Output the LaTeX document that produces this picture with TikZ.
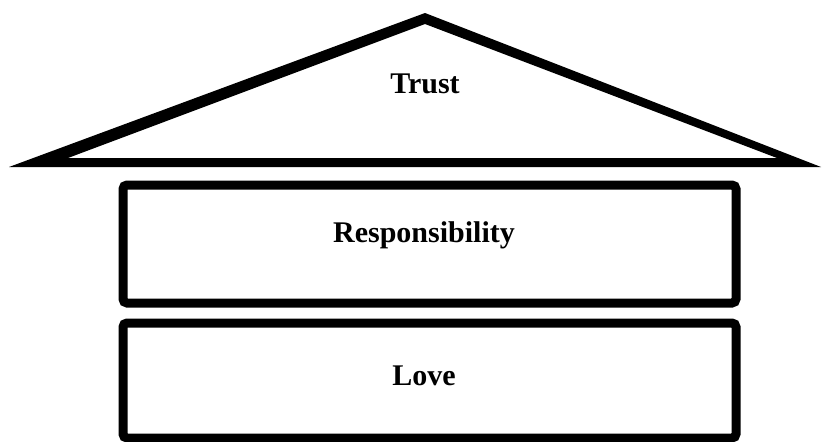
\documentclass[tikz,border=0pt]{standalone}
\usepackage{fontspec}
\setmainfont{Liberation Serif}
\begin{document}
\begin{tikzpicture}[x=1pt,y=-1pt,
  box/.style={draw=black,line width=9pt,rounded corners=4pt},
  lbl/.style={anchor=base,font=\fontsize{30}{36}\selectfont\bfseries,inner sep=0pt}]
\useasboundingbox (0,0) rectangle (823,442);
% roof
\fill[black,even odd rule] (9,167) -- (425,13) -- (821,167) -- cycle
  (68,158) -- (425,24) -- (777,158) -- cycle;
% boxes
\draw[box] (123,185) rectangle (736,303);
\draw[box] (123,323) rectangle (736,438);
\node[lbl] (trust) at (425,93) {Trust};
\node[lbl] (resp) at (424,242) {Responsibility};
\node[lbl] (love) at (424,385) {Love};
\end{tikzpicture}
\end{document}
